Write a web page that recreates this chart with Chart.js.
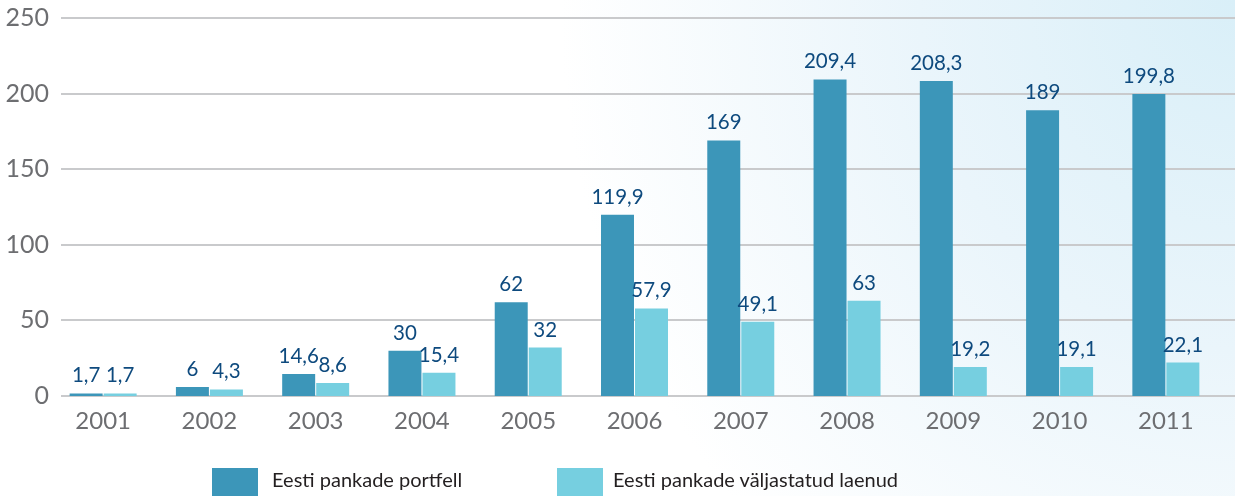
<!DOCTYPE html>
<html>
<head>
<meta charset="utf-8">
<script src="https://cdn.jsdelivr.net/npm/chart.js@4.4.1/dist/chart.umd.min.js"></script>
<style>
  html, body { margin: 0; padding: 0; overflow: hidden; }
  body {
    width: 1235px; height: 496px; position: relative;
    background: radial-gradient(ellipse 900px 1000px at 100% 0%, #d9eff8 0%, #eaf5fb 35%, #ffffff 75%);
  }
  #wrap { position: absolute; left: 0; top: 0; width: 1235px; height: 496px; }
  .lg-box { position: absolute; top: 468px; width: 46px; height: 28px; }
  .lg-txt { position: absolute; top: 467px; font: 20px Lato, sans-serif; color: #231f20; white-space: nowrap; }
</style>
</head>
<body>
<div id="wrap"><canvas id="c" width="1235" height="496"></canvas></div>
<div class="lg-box" style="left:212px;background:#3c96b9"></div>
<div class="lg-txt" id="lg1" style="left:272px"></div>
<div class="lg-box" style="left:557px;background:#76cfe0"></div>
<div class="lg-txt" id="lg2" style="left:613px"></div>
<script>
const categories = ['2001','2002','2003','2004','2005','2006','2007','2008','2009','2010','2011'];
const seriesNames = ['Eesti pankade portfell', 'Eesti pankade väljastatud laenud'];
const portfell = [1.7, 6, 14.6, 30, 62, 119.9, 169, 209.4, 208.3, 189, 199.8];
const laenud = [1.7, 4.3, 8.6, 15.4, 32, 57.9, 49.1, 63, 19.2, 19.1, 22.1];
const yTicks = [0, 50, 100, 150, 200, 250];

document.getElementById('lg1').textContent = seriesNames[0];
document.getElementById('lg2').textContent = seriesNames[1];

const gridPlugin = {
  id: 'grid',
  beforeDatasetsDraw(chart) {
    const ctx = chart.ctx, y = chart.scales.y;
    ctx.save();
    ctx.strokeStyle = '#c9cacc';
    ctx.lineWidth = 2;
    yTicks.forEach(v => {
      const py = Math.round(y.getPixelForValue(v));
      ctx.beginPath();
      ctx.moveTo(61, py);
      ctx.lineTo(chart.width, py);
      ctx.stroke();
    });
    ctx.restore();
  }
};

const labelPlugin = {
  id: 'vals',
  afterDatasetsDraw(chart) {
    const ctx = chart.ctx;
    ctx.save();
    ctx.font = '20.5px Lato, sans-serif';
    ctx.fillStyle = '#0e4a7e';
    ctx.textAlign = 'center';
    ctx.textBaseline = 'alphabetic';
    chart.data.datasets.forEach((ds, i) => {
      chart.getDatasetMeta(i).data.forEach((bar, j) => {
        const t = String(ds.data[j]).replace('.', ',');
        ctx.fillText(t, bar.x, bar.y - 11);
      });
    });
    ctx.restore();
  }
};

new Chart(document.getElementById('c'), {
  type: 'bar',
  data: {
    labels: categories,
    datasets: [
      { label: seriesNames[0], data: portfell, backgroundColor: '#3c96b9', categoryPercentage: 0.64, barPercentage: 0.97 },
      { label: seriesNames[1], data: laenud, backgroundColor: '#76cfe0', categoryPercentage: 0.64, barPercentage: 0.97 }
    ]
  },
  options: {
    responsive: false,
    animation: false,
    layout: { padding: { top: 18, right: 16, left: 0, bottom: 0 } },
    plugins: { legend: { display: false }, tooltip: { enabled: false } },
    scales: {
      x: {
        grid: { display: false, drawTicks: false },
        border: { display: false },
        ticks: { color: '#6d6e71', font: { family: 'Lato', size: 24 }, padding: 11, maxRotation: 0 },
        afterFit(s) { s.height = 100; }
      },
      y: {
        min: 0, max: 250,
        grid: { display: false, drawTicks: false },
        border: { display: false },
        ticks: { stepSize: 50, color: '#6d6e71', font: { family: 'Lato', size: 25 }, padding: 1 },
        afterFit(s) { s.width = 50; }
      }
    }
  },
  plugins: [gridPlugin, labelPlugin]
});
</script>
</body>
</html>
